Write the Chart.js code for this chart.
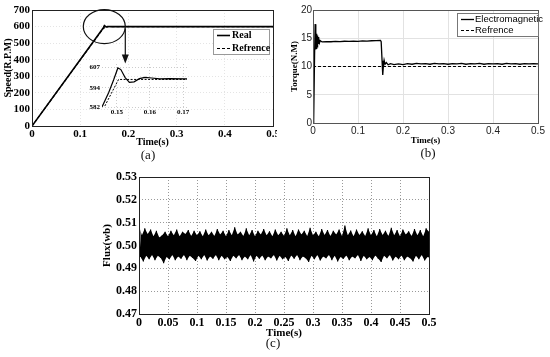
<!DOCTYPE html>
<html>
<head>
<meta charset="utf-8">
<script src="https://cdn.jsdelivr.net/npm/chart.js@4.4.0/dist/chart.umd.min.js"></script>
<style>
html,body{margin:0;padding:0;background:#fff;width:550px;height:357px;overflow:hidden;position:relative}
.box{position:absolute}
.cap{position:absolute;font-family:"Liberation Serif",serif;font-size:13px;color:#111;transform:translateX(-50%);line-height:1}
</style>
</head>
<body>
<div class="box" style="left:0;top:0;width:277px;height:162px"><canvas id="chA"></canvas></div>
<div class="box" style="left:86px;top:58px;width:110px;height:62px"><canvas id="chInset"></canvas></div>
<div class="box" style="left:277px;top:0;width:273px;height:162px"><canvas id="chB"></canvas></div>
<div class="box" style="left:95px;top:168px;width:345px;height:172px"><canvas id="chC"></canvas></div>
<div class="cap" style="left:148px;top:148px">(a)</div>
<div class="cap" style="left:428px;top:146px">(b)</div>
<div class="cap" style="left:273px;top:336px">(c)</div>
<script>
// (a) velocidade
const SPEED_T    = [0, 0.1455, 0.1475, 0.1490, 0.1503, 0.1512, 0.1525, 0.1538, 0.1552, 0.1568, 0.1585, 0.1605, 0.1630, 0.1660, 0.1705, 0.5];
const SPEED_REAL = [0, 582, 591, 599, 606.5, 605.5, 600.5, 597.5, 597.8, 599.8, 600.6, 600.2, 599.6, 599.8, 599.7, 599.7];
const REF_T      = [0, 0.1462, 0.1505, 0.5];
const REF_SPEED  = [0, 582, 599.3, 599.3];
const INSET_TICKS = [582, 594, 607];

// (b) torque
const TORQUE_T = [0, 0.0015, 0.0035, 0.0048, 0.0058, 0.0066, 0.0074, 0.0082, 0.009, 0.0098, 0.0106, 0.0114, 0.0122, 0.013, 0.0145, 0.016,
  0.02, 0.03, 0.04, 0.05, 0.06, 0.07, 0.08, 0.09, 0.10, 0.11, 0.12, 0.13, 0.14, 0.15,
  0.1515, 0.1535, 0.155, 0.1565, 0.158, 0.16, 0.163, 0.167, 0.172, 0.18,
  0.19, 0.20, 0.21, 0.22, 0.23, 0.24, 0.25, 0.26, 0.27, 0.28, 0.29, 0.30, 0.31, 0.32, 0.33, 0.34,
  0.35, 0.36, 0.37, 0.38, 0.39, 0.40, 0.41, 0.42, 0.43, 0.44, 0.45, 0.46, 0.47, 0.48, 0.49, 0.50];
const TORQUE_EM = [0, 0.5, 12, 17.5, 13, 16.2, 13.2, 15.8, 13.5, 15.5, 13.8, 15.2, 14, 15, 14.2, 14.6,
  14.35, 14.42, 14.38, 14.45, 14.40, 14.47, 14.43, 14.50, 14.46, 14.52, 14.50, 14.56, 14.58, 14.60,
  14.4, 11, 8.5, 10.2, 11.1, 10.4, 10.7, 10.3, 10.5, 10.35,
  10.45, 10.35, 10.5, 10.4, 10.55, 10.45, 10.5, 10.4, 10.55, 10.45, 10.5, 10.4, 10.5, 10.45, 10.55, 10.4,
  10.5, 10.45, 10.55, 10.4, 10.5, 10.45, 10.5, 10.4, 10.55, 10.45, 10.5, 10.4, 10.5, 10.45, 10.5, 10.45];
const TORQUE_REF_T = [0, 0.5];
const TORQUE_REF   = [10, 10];

// (c) fluxo: envoltória superior / inferior da faixa de ripple
const FLUX_STEP = 0.005;
const FLUX_UPPER = [
  0.5085,0.5045,0.5075,0.5050,0.5070,0.5040,0.5065,0.5035,0.5045,0.5060,
  0.5040,0.5065,0.5045,0.5070,0.5040,0.5060,0.5050,0.5068,0.5042,0.5065,
  0.5045,0.5062,0.5040,0.5070,0.5045,0.5060,0.5042,0.5072,0.5048,0.5065,
  0.5040,0.5068,0.5045,0.5080,0.5048,0.5060,0.5042,0.5075,0.5045,0.5068,
  0.5040,0.5065,0.5048,0.5072,0.5045,0.5062,0.5040,0.5070,0.5045,0.5060,
  0.5043,0.5075,0.5045,0.5068,0.5040,0.5070,0.5048,0.5065,0.5042,0.5078,
  0.5045,0.5060,0.5040,0.5072,0.5046,0.5068,0.5042,0.5065,0.5048,0.5070,
  0.5042,0.5088,0.5045,0.5066,0.5040,0.5070,0.5046,0.5062,0.5042,0.5075,
  0.5045,0.5068,0.5040,0.5072,0.5046,0.5065,0.5042,0.5078,0.5045,0.5068,
  0.5040,0.5070,0.5048,0.5062,0.5042,0.5072,0.5045,0.5068,0.5040,0.5075,0.5060];
const FLUX_LOWER = [
  0.4950,0.4930,0.4955,0.4940,0.4958,0.4935,0.4955,0.4945,0.4922,0.4950,
  0.4940,0.4958,0.4935,0.4952,0.4942,0.4958,0.4936,0.4955,0.4945,0.4932,
  0.4955,0.4940,0.4958,0.4934,0.4952,0.4942,0.4958,0.4935,0.4955,0.4940,
  0.4950,0.4932,0.4955,0.4944,0.4958,0.4936,0.4952,0.4940,0.4958,0.4930,
  0.4955,0.4942,0.4956,0.4935,0.4952,0.4944,0.4958,0.4934,0.4955,0.4940,
  0.4950,0.4932,0.4956,0.4942,0.4958,0.4936,0.4952,0.4944,0.4928,0.4955,
  0.4940,0.4958,0.4934,0.4952,0.4944,0.4958,0.4936,0.4955,0.4930,0.4950,
  0.4942,0.4956,0.4935,0.4952,0.4944,0.4958,0.4932,0.4955,0.4940,0.4950,
  0.4936,0.4956,0.4942,0.4928,0.4955,0.4944,0.4958,0.4934,0.4952,0.4940,
  0.4956,0.4935,0.4952,0.4944,0.4930,0.4955,0.4940,0.4958,0.4934,0.4950,0.4945];

const SERIF = '"Liberation Serif", "Times New Roman", serif';
const SANS = '"Liberation Sans", Arial, sans-serif';

function pts(xs, ys){ return xs.map((x,i)=>({x, y: ys[i]})); }
function fmt(v){ return String(Number(v.toFixed(3))); }

// zigue-zague entre as envoltórias + as próprias envoltórias para o preenchimento
const fluxPts = [];
FLUX_UPPER.forEach((u,i)=>{
  fluxPts.push({x: i*FLUX_STEP, y: u});
  fluxPts.push({x: i*FLUX_STEP + FLUX_STEP/2, y: FLUX_LOWER[i]});
});
const upperPts = FLUX_UPPER.map((u,i)=>({x: i*FLUX_STEP, y: u}));
const lowerPts = FLUX_LOWER.map((l,i)=>({x: i*FLUX_STEP + FLUX_STEP/2, y: l}));

const frame = {
  id: 'frame',
  afterDatasetsDraw(chart, args, o){
    const {ctx, chartArea:a} = chart;
    ctx.save();
    ctx.strokeStyle = o.color || '#000';
    ctx.lineWidth = o.width || 1;
    ctx.strokeRect(Math.round(a.left)+0.5, Math.round(a.top)+0.5, Math.round(a.right-a.left), Math.round(a.bottom-a.top));
    ctx.restore();
  }
};

const boxLegend = {
  id: 'boxLegend',
  afterDraw(chart, args, o){
    if(!o.show) return;
    const {ctx, chartArea:a} = chart;
    const items = chart.data.datasets.filter(d=>d.label);
    const x = Math.round(a.right - o.right - o.width), y = Math.round(a.top + o.top);
    ctx.save();
    ctx.fillStyle = '#fff';
    ctx.fillRect(x, y, o.width, o.height);
    ctx.strokeStyle = o.border; ctx.lineWidth = 1;
    ctx.strokeRect(x+0.5, y+0.5, o.width, o.height);
    ctx.font = o.font; ctx.textBaseline = 'middle'; ctx.fillStyle = '#000';
    items.forEach((d,i)=>{
      const cy = Math.round(y + o.rowTop + i*o.rowGap) + 0.5;
      ctx.beginPath();
      ctx.setLineDash(d.borderDash || []);
      ctx.lineWidth = d.borderWidth; ctx.strokeStyle = d.borderColor;
      ctx.moveTo(x+o.lineX0, cy); ctx.lineTo(x+o.lineX1, cy); ctx.stroke();
      ctx.setLineDash([]);
      ctx.fillText(d.label, x+o.textX, cy);
    });
    ctx.restore();
  }
};

// elipse + seta apontando para o zoom
const zoomMark = {
  id: 'zoomMark',
  afterDatasetsDraw(chart){
    const {ctx, scales:{x, y}} = chart;
    const cx = x.getPixelForValue(0.15), cy = y.getPixelForValue(600);
    const rx = 21, ry = 17;
    ctx.save();
    ctx.strokeStyle = '#111'; ctx.lineWidth = 1.2;
    ctx.beginPath(); ctx.ellipse(cx, cy, rx, ry, 0, 0, Math.PI*2); ctx.stroke();
    const ax = cx + rx;
    ctx.beginPath(); ctx.moveTo(ax, cy+2); ctx.lineTo(ax, cy+30); ctx.stroke();
    ctx.fillStyle = '#111';
    ctx.beginPath(); ctx.moveTo(ax-3.5, cy+28); ctx.lineTo(ax+3.5, cy+28); ctx.lineTo(ax, cy+37); ctx.closePath(); ctx.fill();
    ctx.restore();
  }
};

function fixW(w){ return s=>{ s.width = w; s.paddingTop = 0; s.paddingBottom = 0; }; }
function fixH(h){ return s=>{ s.height = h; s.paddingLeft = 0; s.paddingRight = 0; }; }

const line = (label, data, dash, w) => ({
  label, data, borderColor:'#000', backgroundColor:'#000', borderWidth: w,
  borderDash: dash, pointRadius: 0, tension: 0, fill: false
});

Chart.defaults.animation = false;
Chart.defaults.color = '#000';

// ---------- (a)
new Chart(document.getElementById('chA'), {
  type: 'line',
  data: { datasets: [
    line('Real', pts(SPEED_T, SPEED_REAL), [], 1.6),
    line('Refrence', pts(REF_T, REF_SPEED), [3,2], 1.2),
  ]},
  options: {
    responsive: true, maintainAspectRatio: false,
    layout: { padding: {top:10, right:4, left:0, bottom:14} },
    plugins: {
      legend:{display:false}, tooltip:{enabled:false},
      frame:{color:'#222'},
      boxLegend:{show:true, right:4, top:19, width:56, height:25, rowTop:6, rowGap:13,
        lineX0:4, lineX1:17, textX:19, border:'#999', font:'bold 10px '+SERIF}
    },
    scales: {
      x: { type:'linear', min:0, max:0.5,
        ticks:{stepSize:0.1, padding:2, font:{family:SERIF, size:11, weight:'bold'}, callback:fmt, maxRotation:0},
        grid:{color:'#e4e4e4', drawTicks:false}, border:{display:false, dash:[1,2]},
        title:{display:true, text:'Time(s)', padding:{top:0,bottom:0}, font:{family:SERIF, size:10, weight:'bold'}},
        afterFit: fixH(22)
      },
      y: { min:0, max:700,
        ticks:{stepSize:100, padding:2, font:{family:SERIF, size:11, weight:'bold'}},
        grid:{color:'#e4e4e4', drawTicks:false}, border:{display:false, dash:[1,2]},
        title:{display:true, text:'Speed(R.P.M)', padding:{top:2,bottom:0}, font:{family:SERIF, size:10, weight:'bold'}},
        afterFit: fixW(32)
      }
    }
  },
  plugins: [frame, boxLegend, zoomMark]
});

// ---------- inset
new Chart(document.getElementById('chInset'), {
  type: 'line',
  data: { datasets: [
    line('', pts(SPEED_T, SPEED_REAL), [], 1.2),
    line('', pts(REF_T, REF_SPEED), [2,1.5], 1),
  ]},
  options: {
    responsive: true, maintainAspectRatio: false,
    layout: { padding: {top:6, right:9, left:0, bottom:0} },
    plugins: { legend:{display:false}, tooltip:{enabled:false} },
    scales: {
      x: { type:'linear', min:0.1455, max:0.1712,
        afterBuildTicks: s=>{ s.ticks = [0.15,0.16,0.17].map(v=>({value:v})); },
        ticks:{padding:1, font:{family:SERIF, size:7, weight:'bold'}, callback:fmt, maxRotation:0},
        grid:{color:'#ccc', drawTicks:false}, border:{display:false, dash:[1,2]},
        afterFit: fixH(13)
      },
      y: { min:582, max:609,
        afterBuildTicks: s=>{ s.ticks = INSET_TICKS.map(v=>({value:v})); },
        ticks:{padding:2, font:{family:SERIF, size:7, weight:'bold'}},
        grid:{color:'#ccc', drawTicks:false}, border:{display:false, dash:[1,2]},
        afterFit: fixW(16)
      }
    }
  }
});

// ---------- (b)
new Chart(document.getElementById('chB'), {
  type: 'line',
  data: { datasets: [
    line('Electromagnetic', pts(TORQUE_T, TORQUE_EM), [], 1.3),
    line('Refrence', pts(TORQUE_REF_T, TORQUE_REF), [3,2], 1),
  ]},
  options: {
    responsive: true, maintainAspectRatio: false,
    layout: { padding: {top:10, right:12, left:0, bottom:16} },
    plugins: {
      legend:{display:false}, tooltip:{enabled:false},
      frame:{color:'#555'},
      boxLegend:{show:true, right:0, top:3, width:81, height:23, rowTop:6, rowGap:11,
        lineX0:4, lineX1:17, textX:18, border:'#777', font:'9.5px '+SANS}
    },
    scales: {
      x: { type:'linear', min:0, max:0.5,
        ticks:{stepSize:0.1, padding:2, color:'#222', font:{family:SANS, size:10}, callback:fmt, maxRotation:0},
        grid:{color:'#e2e2e2', drawTicks:false}, border:{display:false},
        title:{display:true, text:'Time(s)', padding:{top:0,bottom:0}, font:{family:SERIF, size:9, weight:'bold'}},
        afterFit: fixH(23)
      },
      y: { min:0, max:20,
        ticks:{stepSize:5, padding:1, color:'#222', font:{family:SANS, size:10}},
        grid:{color:'#e2e2e2', drawTicks:false}, border:{display:false},
        title:{display:true, text:'Torque(N.M)', padding:{top:12,bottom:0}, font:{family:SERIF, size:9, weight:'bold'}},
        afterFit: fixW(36)
      }
    }
  },
  plugins: [frame, boxLegend]
});

// ---------- (c)
new Chart(document.getElementById('chC'), {
  type: 'line',
  data: { datasets: [
    line('', fluxPts, [], 1.1),
    Object.assign(line('', upperPts, [], 0), {fill:'+1', backgroundColor:'#000'}),
    line('', lowerPts, [], 0),
  ]},
  options: {
    responsive: true, maintainAspectRatio: false,
    layout: { padding: {top:9, right:11, left:0, bottom:0} },
    plugins: { legend:{display:false}, tooltip:{enabled:false}, frame:{color:'#222'}, filler:{propagate:false} },
    scales: {
      x: { type:'linear', min:0, max:0.5,
        ticks:{stepSize:0.05, padding:2, font:{family:SERIF, size:12, weight:'bold'}, callback:fmt, maxRotation:0, autoSkip:false},
        grid:{color:'#999', drawTicks:false}, border:{display:false, dash:[1,2]},
        title:{display:true, text:'Time(s)', padding:{top:0,bottom:0}, font:{family:SERIF, size:11, weight:'bold'}},
        afterFit: fixH(26)
      },
      y: { min:0.47, max:0.53,
        ticks:{stepSize:0.01, padding:2, font:{family:SERIF, size:12, weight:'bold'}, callback:v=>v.toFixed(2)},
        grid:{color:'#999', drawTicks:false}, border:{display:false, dash:[1,2]},
        title:{display:true, text:'Flux(wb)', padding:{top:6,bottom:0}, font:{family:SERIF, size:11, weight:'bold'}},
        afterFit: fixW(44)
      }
    }
  },
  plugins: [frame]
});
</script>
</body>
</html>
